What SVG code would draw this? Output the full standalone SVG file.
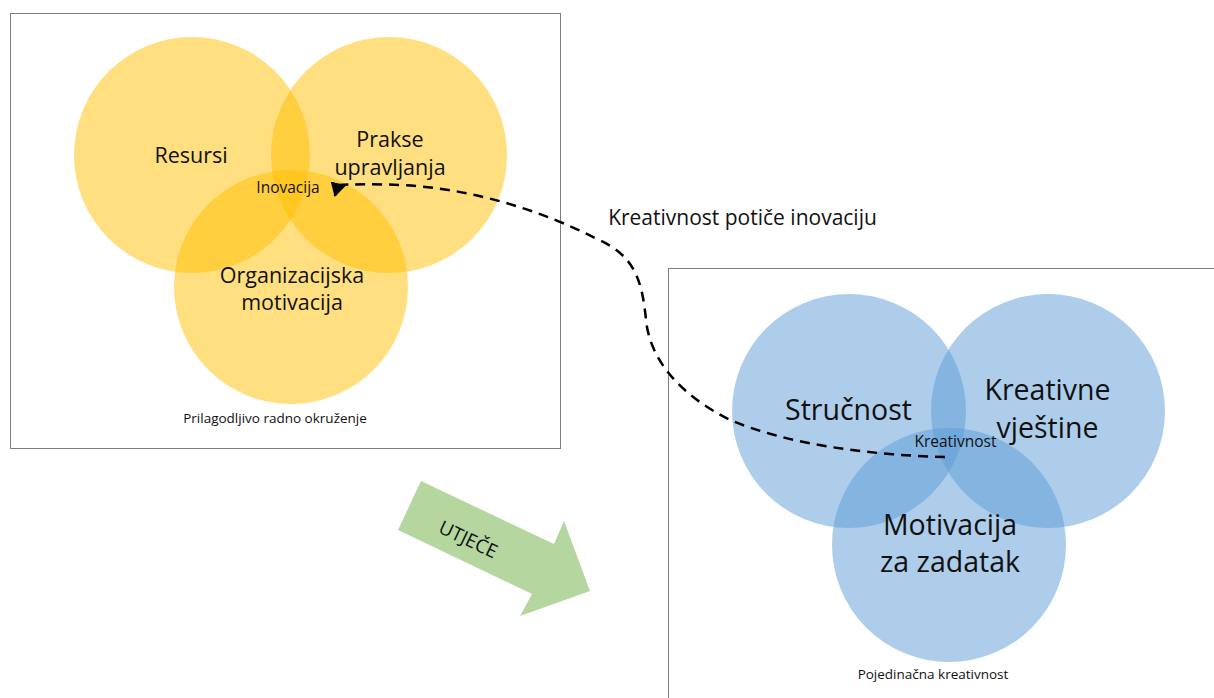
<svg xmlns="http://www.w3.org/2000/svg" width="1214" height="698" viewBox="0 0 1214 698">
<style>
.box{fill:#fff;stroke:#7f7f7f;stroke-width:1}
.y{fill:#FFC000;fill-opacity:0.5}
.b{fill:#5B9BD5;fill-opacity:0.5}
text{font-family:"Open Sans","Noto Sans",sans-serif;fill:#111;text-anchor:middle}
.l{font-size:21.5px}
.xl{font-size:28.5px}
.s{font-size:15.5px}
.xs{font-size:13.5px}
</style>
<defs>
<marker id="ah" markerWidth="16" markerHeight="16" refX="13" refY="8" orient="105" markerUnits="userSpaceOnUse" viewBox="0 0 16 16">
<path d="M0,0 L14,8 L0,16 Z" fill="#000"/>
</marker>
</defs>
<rect class="box" x="10.5" y="13.5" width="550" height="435"/>
<rect class="box" x="668.5" y="268.5" width="560" height="440"/>
<g id="resursi"><circle class="y" cx="192" cy="155" r="118"/><text class="l" x="191" y="163">Resursi</text></g>
<g id="prakse"><circle class="y" cx="389" cy="155" r="118"/><text class="l" x="390" y="147">Prakse</text><text class="l" x="390" y="175">upravljanja</text></g>
<g id="orgmot"><circle class="y" cx="291" cy="287" r="117"/><text class="l" x="292" y="283">Organizacijska</text><text class="l" x="292" y="310">motivacija</text></g>
<g id="inovacija"><text class="s" x="288" y="193">Inovacija</text></g>
<g id="okruzenje"><text class="xs" x="275" y="423">Prilagodljivo radno okruženje</text></g>
<g id="strucnost"><circle class="b" cx="849" cy="411" r="117"/><text class="xl" x="848.5" y="420">Stručnost</text></g>
<g id="kreativne"><circle class="b" cx="1048" cy="411" r="117"/><text class="xl" x="1047.5" y="400">Kreativne</text><text class="xl" x="1047.5" y="438">vještine</text></g>
<g id="motivacija"><circle class="b" cx="949" cy="545" r="117"/><text class="xl" x="950" y="535">Motivacija</text><text class="xl" x="950" y="572">za zadatak</text></g>
<g id="kreativnost"><text class="s" x="955.5" y="447">Kreativnost</text></g>
<g id="pojedinacna"><text class="xs" x="933" y="679">Pojedinačna kreativnost</text></g>
<g id="utjece"><polygon points="421,481 554,544 564,521 590,591 520,616 532,594 398,530" fill="#B5D69F"/><text x="468" y="546" font-size="19" transform="rotate(25.5 468 540)">UTJEČE</text></g>
<g id="connectors"><path d="M945,457 C870,455 790,445 730,420 C680,395 650,360 646,320 C642,280 635,255 595,238 C540,210 470,188 400,185 C375,184 360,184 336,185 L335,196" fill="none" stroke="#000" stroke-width="2.5" stroke-dasharray="10,7" marker-end="url(#ah)"/></g>
<g id="label"><text x="742.5" y="225" font-size="21">Kreativnost potiče inovaciju</text></g>
</svg>
